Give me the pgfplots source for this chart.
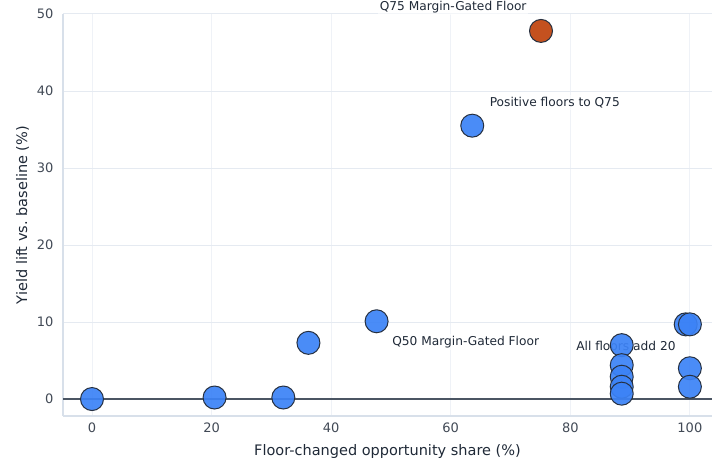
\documentclass[border=0pt]{standalone}
\usepackage{fontspec}
\setmainfont{DejaVu Sans}
\usepackage{pgfplots}
\pgfplotsset{compat=1.18}
\definecolor{ptblue}{HTML}{3B82F6}
\definecolor{ptorange}{HTML}{C4511F}
\definecolor{ptedge}{HTML}{263040}
\definecolor{txt}{HTML}{1F2937}
\definecolor{gridc}{HTML}{E5EAF1}
\definecolor{axc}{HTML}{D8E0EA}
\definecolor{zeroc}{HTML}{4B5563}
\begin{document}
\begin{tikzpicture}[x=1pt,y=1pt]
\path[use as bounding box] (0,0) rectangle (712,465);
\begin{axis}[
  at={(63pt,49pt)}, anchor=south west,
  scale only axis, width=649pt, height=402pt,
  xmin=-4.85, xmax=103.7, ymin=-2.2, ymax=50,
  xtick={0,20,40,60,80,100}, ytick={0,10,20,30,40,50},
  axis x line*=bottom, axis y line*=left,
  axis line style={draw=axc, line width=1.4pt},
  x axis line style={-}, y axis line style={-},
  major tick length=0pt,
  grid=major,
  x grid style={draw=gridc!60, line width=0.8pt},
  y grid style={draw=gridc, line width=1pt},
  tick label style={font=\fontsize{13}{15}\selectfont, text=txt!85},
  /pgf/number format/assume math mode=true,
  xticklabel style={yshift=-3pt},
  yticklabel style={xshift=-6pt},
  xlabel={Floor-changed opportunity share (\%)},
  ylabel={Yield lift vs.\ baseline (\%)},
  label style={font=\fontsize{14.5}{17}\selectfont, text=txt},
  xlabel style={yshift=-5pt},
  ylabel style={yshift=1pt},
  clip=false,
]
\addplot[draw=zeroc, line width=1.3pt, forget plot] coordinates {(-4.85,0) (103.7,0)};
\addplot[only marks, mark=*, mark size=11.5pt,
  mark options={fill=ptblue, fill opacity=0.92, draw=ptedge, line width=1pt}] coordinates {
(0,0) (20.5,0.2) (32,0.2) (36.2,7.3) (47.6,10.1) (63.6,35.5)
(88.6,7.0) (88.6,4.4) (88.6,2.9) (88.6,1.6) (88.6,0.7)
(99.3,9.7) (100,9.7) (100,4.0) (100,1.6)
};
\addplot[only marks, mark=*, mark size=11.5pt,
  mark options={fill=ptorange, draw=ptedge, line width=1pt}] coordinates {
(75.1,47.8)
};
\tikzset{ann/.style={font=\fontsize{12.2}{15}\selectfont, text=txt, fill=white, fill opacity=0.6, text opacity=1, inner sep=2pt}}
\node[ann] at (axis cs:60.4,50.9) {Q75 Margin-Gated Floor};
\node[ann] at (axis cs:77.4,38.5) {Positive floors to Q75};
\node[ann] at (axis cs:62.5,7.4) {Q50 Margin-Gated Floor};
\node[ann] at (axis cs:89.3,6.9) {All floors add 20};
\end{axis}
\end{tikzpicture}
\end{document}
